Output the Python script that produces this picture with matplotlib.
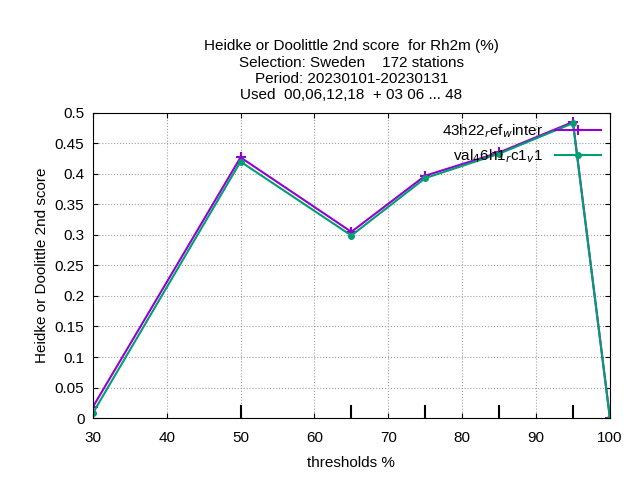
import numpy as np
import matplotlib.pyplot as plt

thresholds = [30, 50, 65, 75, 85, 95, 100]
ref_winter = [0.018, 0.427, 0.305, 0.397, 0.435, 0.485, 0.0]
val_c1 = [0.008, 0.420, 0.299, 0.393, 0.433, 0.483, 0.0]

plt.rcParams['font.family'] = ['Liberation Sans', 'DejaVu Sans']
fig = plt.figure(figsize=(6.4, 4.8), dpi=100)
ax = fig.add_axes([0.145, 0.129, 0.808, 0.636])

ax.plot(thresholds, ref_winter, color='#9400d3', lw=1.5, marker='+', ms=7, mew=1.5,
        label='43h22$_{r}$ef$_{w}$inter')
ax.plot(thresholds, val_c1, color='#009e73', lw=1.5, marker='o', ms=4,
        label='val$_{4}$6h1$_{r}$c1$_{v}$1')

# threshold tick marks along the bottom
for t in thresholds[1:-1]:
    ax.plot([t, t], [0, 0.02], color='black', lw=1.5)

ax.set_xlim(30, 100)
ax.set_ylim(0, 0.5)
ax.set_xticks(np.arange(30, 101, 10))
ax.set_yticks(np.arange(0, 0.51, 0.05))
ax.set_yticklabels(['0', '0.05', '0.1', '0.15', '0.2', '0.25', '0.3', '0.35', '0.4', '0.45', '0.5'])
ax.tick_params(direction='in', top=True, right=True, labelsize=11)
ax.tick_params(axis='x', pad=9)
ax.tick_params(axis='y', pad=6)
ax.grid(True, color='#a0a0a0', ls=':', lw=0.8)
ax.set_xlabel('thresholds %', fontsize=11, labelpad=8)
ax.set_ylabel('Heidke or Doolittle 2nd score', fontsize=11)
ax.set_title('Heidke or Doolittle 2nd score  for Rh2m (%)\nSelection: Sweden    172 stations\n'
             'Period: 20230101-20230131\nUsed  00,06,12,18  + 03 06 ... 48', fontsize=11, pad=10)
leg = ax.legend(loc='upper right', frameon=False, fontsize=11, markerfirst=False,
                handlelength=3, borderaxespad=0.2)

fig.savefig('out.png')
